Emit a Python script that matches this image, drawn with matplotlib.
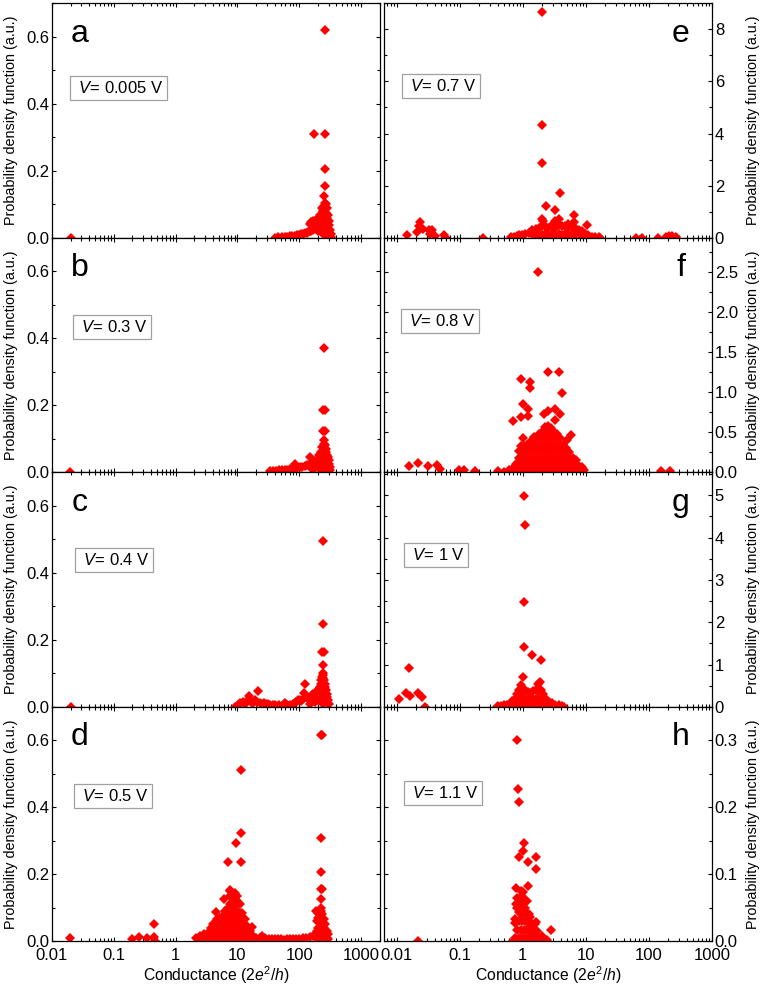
import numpy as np
import matplotlib
matplotlib.use('Agg')
import matplotlib.pyplot as plt
from matplotlib.ticker import LogLocator, MultipleLocator, FormatStrFormatter, FixedLocator, FixedFormatter

plt.rcParams['font.family'] = 'Liberation Sans'
plt.rcParams['mathtext.fontset'] = 'custom'
plt.rcParams['mathtext.rm'] = 'Liberation Sans'
plt.rcParams['mathtext.it'] = 'Liberation Sans:italic'

# panel data: (conductance in 2e^2/h, pdf)
a_pts = [(0.02, 0.0), (265, 0.62), (172, 0.31), (265, 0.31), (265, 0.205), (265, 0.155), (250, 0.125), (262, 0.105),
         (41, 0.0), (46, 0.002), (52, 0.003), (58, 0.003), (64, 0.004), (70, 0.005), (77, 0.006), (84, 0.007),
         (92, 0.008), (100, 0.009), (108, 0.011), (116, 0.012), (124, 0.014), (132, 0.016), (140, 0.018), (148, 0.02),
         (150, 0.042), (158, 0.048), (165, 0.05), (172, 0.045), (180, 0.05), (188, 0.055), (196, 0.045), (204, 0.04), (212, 0.05),
         (155, 0.022), (170, 0.025), (185, 0.028), (200, 0.022), (215, 0.03),
         (220, 0.07), (225, 0.035), (232, 0.09), (238, 0.05), (244, 0.08), (250, 0.095), (256, 0.06), (262, 0.085),
         (268, 0.1), (274, 0.075), (280, 0.09), (286, 0.06), (292, 0.07), (300, 0.05), (308, 0.04), (316, 0.025),
         (324, 0.012), (332, 0.004),
         (240, 0.02), (255, 0.03), (270, 0.04), (285, 0.025), (260, 0.01), (230, 0.015), (300, 0.015), (275, 0.015),
         (245, 0.055), (265, 0.06)]

b_pts = [(0.0195, 0.0), (250, 0.37), (240, 0.185), (262, 0.185), (240, 0.123), (262, 0.123), (250, 0.095),
         (87, 0.024), (148, 0.044),
         (34, 0.004), (38, 0.002), (42, 0.004), (47, 0.005), (52, 0.005), (58, 0.006), (64, 0.007), (70, 0.008),
         (77, 0.01), (85, 0.011), (93, 0.012), (102, 0.014), (112, 0.016), (122, 0.018), (132, 0.02), (142, 0.022),
         (152, 0.025), (162, 0.028), (172, 0.03), (182, 0.033), (192, 0.035),
         (200, 0.04), (205, 0.02), (212, 0.05), (218, 0.03), (225, 0.06), (232, 0.04), (238, 0.075), (245, 0.05),
         (250, 0.085), (255, 0.065), (262, 0.08), (268, 0.06), (275, 0.07), (282, 0.05), (290, 0.045), (298, 0.035),
         (306, 0.025), (314, 0.015), (320, 0.005),
         (230, 0.015), (245, 0.025), (260, 0.035), (275, 0.02), (290, 0.015), (250, 0.005), (220, 0.01),
         (180, 0.012), (160, 0.01), (200, 0.015)]

c_pts = [(0.0204, 0.0), (240, 0.495), (240, 0.247), (232, 0.165), (248, 0.165), (240, 0.125), (240, 0.10),
         (123, 0.07), (120, 0.042), (21.3, 0.048), (15.2, 0.033), (9.25, 0.0),
         (10.2, 0.005), (11.2, 0.012), (12.3, 0.015), (13.5, 0.01), (14.5, 0.018), (16.5, 0.015), (18, 0.012),
         (19.5, 0.02), (21, 0.016), (23, 0.012), (25, 0.01), (27, 0.012), (29, 0.01), (31, 0.008), (34, 0.006),
         (37, 0.007), (40, 0.005), (44, 0.004), (48, 0.005), (52, 0.004), (56, 0.008), (60, 0.012), (64, 0.007),
         (68, 0.004), (72, 0.005), (78, 0.008), (84, 0.012), (90, 0.016), (96, 0.02), (102, 0.022), (108, 0.018),
         (114, 0.025), (130, 0.03), (138, 0.025), (146, 0.028), (154, 0.03), (162, 0.035), (170, 0.04), (180, 0.038),
         (190, 0.045), (200, 0.05), (210, 0.055),
         (215, 0.06), (222, 0.08), (228, 0.07), (234, 0.09), (240, 0.085), (246, 0.095), (252, 0.08), (258, 0.07),
         (264, 0.06), (270, 0.05), (278, 0.04), (286, 0.03), (295, 0.02), (300, 0.01),
         (230, 0.03), (245, 0.04), (260, 0.03), (275, 0.015), (220, 0.02), (240, 0.01), (255, 0.015),
         (150, 0.01), (180, 0.015), (200, 0.02)]

d_pts = [(0.0195, 0.008), (0.196, 0.006), (0.26, 0.011), (0.343, 0.008), (0.44, 0.012), (0.44, 0.05), (0.46, 0.0),
         (11.4, 0.513), (11.4, 0.323), (9.6, 0.293), (7.13, 0.237), (11.4, 0.237), (7.5, 0.152), (5.98, 0.125),
         (4.55, 0.088), (17.2, 0.043),
         (226, 0.617), (236, 0.617), (228, 0.309), (228, 0.205), (222, 0.155), (234, 0.155), (228, 0.125),
         (225, 0.1), (187, 0.09),
         (2.1, 0.01), (2.5, 0.005), (2.5, 0.015), (2.9, 0.005), (2.9, 0.02), (3.3, 0.005), (3.3, 0.025),
         (3.7, 0.01), (3.7, 0.03), (3.7, 0.04), (4.1, 0.005), (4.1, 0.025), (4.1, 0.05),
         (4.6, 0.01), (4.6, 0.03), (4.6, 0.05), (4.6, 0.065), (5.2, 0.005), (5.2, 0.025), (5.2, 0.045), (5.2, 0.07),
         (5.8, 0.01), (5.8, 0.03), (5.8, 0.05), (5.8, 0.075),
         (6.4, 0.005), (6.4, 0.025), (6.4, 0.045), (6.4, 0.065), (6.4, 0.09),
         (7.0, 0.01), (7.0, 0.03), (7.0, 0.05), (7.0, 0.07), (7.0, 0.1),
         (7.7, 0.005), (7.7, 0.025), (7.7, 0.045), (7.7, 0.065), (7.7, 0.085), (7.7, 0.11), (7.7, 0.135), (7.7, 0.15),
         (8.4, 0.01), (8.4, 0.03), (8.4, 0.05), (8.4, 0.07), (8.4, 0.09), (8.4, 0.115), (8.4, 0.14),
         (9.2, 0.005), (9.2, 0.025), (9.2, 0.045), (9.2, 0.065), (9.2, 0.085), (9.2, 0.105), (9.2, 0.125), (9.2, 0.145),
         (10, 0.01), (10, 0.03), (10, 0.05), (10, 0.07), (10, 0.09), (10, 0.12), (10, 0.135),
         (11, 0.005), (11, 0.025), (11, 0.045), (11, 0.065), (11, 0.085), (11, 0.11),
         (12, 0.01), (12, 0.03), (12, 0.05), (12, 0.07), (12, 0.085),
         (13.2, 0.005), (13.2, 0.025), (13.2, 0.045), (13.2, 0.065),
         (14.5, 0.01), (14.5, 0.03), (14.5, 0.045), (16, 0.005), (16, 0.02), (16, 0.03), (18, 0.005), (18, 0.015),
         (20, 0.01), (23, 0.008), (25, 0.015), (28, 0.008), (32, 0.006), (36, 0.005), (40, 0.007), (45, 0.005),
         (50, 0.006), (56, 0.004), (63, 0.005), (70, 0.006), (80, 0.005), (90, 0.007), (100, 0.006), (115, 0.008),
         (130, 0.01), (150, 0.012), (170, 0.015),
         (195, 0.005), (195, 0.03), (195, 0.06), (205, 0.01), (205, 0.04), (205, 0.07), (205, 0.085),
         (215, 0.005), (215, 0.03), (215, 0.06), (215, 0.08), (225, 0.01), (225, 0.04), (225, 0.07), (225, 0.09),
         (235, 0.005), (235, 0.03), (235, 0.055), (235, 0.08), (250, 0.01), (250, 0.04), (250, 0.065),
         (265, 0.005), (265, 0.03), (265, 0.05), (280, 0.01), (280, 0.03), (295, 0.005), (295, 0.02)]

e_pts = [(0.0146, 0.1), (0.021, 0.23), (0.0238, 0.61), (0.0225, 0.45), (0.026, 0.35), (0.0322, 0.29), (0.0363, 0.3),
         (0.034, 0.15), (0.041, 0.08), (0.0557, 0.1), (0.06, 0.0), (0.232, 0.0),
         (2.03, 8.64), (2.03, 4.33), (2.03, 2.88), (3.96, 1.73), (2.35, 1.23), (3.30, 1.06), (6.6, 0.87),
         (2.03, 0.74), (2.1, 0.65), (3.7, 0.74), (10.5, 0.49), (6.4, 0.61),
         (61.4, 0.0), (78.4, 0.0), (141, 0.0), (184, 0.05), (210, 0.06), (235, 0.06), (265, 0.03),
         (0.64, 0.03), (0.72, 0.05), (0.8, 0.08), (0.88, 0.12), (0.98, 0.1), (1.1, 0.15), (1.24, 0.2),
         (1.4, 0.15), (1.4, 0.3), (1.6, 0.1), (1.6, 0.35), (1.8, 0.1), (1.8, 0.4), (2.0, 0.1), (2.0, 0.45),
         (2.25, 0.15), (2.25, 0.45), (2.55, 0.1), (2.55, 0.4), (2.9, 0.15), (2.9, 0.5),
         (3.3, 0.1), (3.3, 0.4), (3.3, 0.65), (3.7, 0.15), (3.7, 0.5), (4.2, 0.1), (4.2, 0.45),
         (4.7, 0.15), (4.7, 0.45), (5.3, 0.1), (5.3, 0.4), (5.3, 0.55), (6.0, 0.15), (6.0, 0.5),
         (6.8, 0.1), (6.8, 0.4), (7.7, 0.15), (7.7, 0.3), (8.7, 0.1), (8.7, 0.25), (9.8, 0.05), (9.8, 0.15),
         (11, 0.1), (12.5, 0.05), (14, 0.05), (16, 0.02), (17, 0.0)]

f_pts = [(1.75, 2.49), (2.52, 1.25), (3.73, 1.25), (4.11, 0.99), (0.92, 1.16), (1.29, 1.12), (1.29, 1.05),
         (1.01, 0.85), (1.22, 0.78), (0.92, 0.69), (0.70, 0.64), (1.20, 0.70), (2.15, 0.73), (2.52, 0.76),
         (3.3, 0.78), (3.9, 0.72), (3.3, 0.65), (5.9, 0.46), (1.0, 0.42), (5.0, 0.40), (1.5, 0.44),
         (0.0155, 0.08), (0.0215, 0.11), (0.031, 0.07), (0.0437, 0.09), (0.049, 0.04), (0.0964, 0.03),
         (0.116, 0.03), (0.177, 0.01), (0.406, 0.01), (0.5, 0.0), (0.6, 0.02), (153, 0.01), (215, 0.01),
         (0.70, 0.02), (0.70, 0.05), (0.77, 0.02), (0.77, 0.1),
         (0.86, 0.02), (0.86, 0.1), (0.86, 0.18), (0.86, 0.26),
         (0.95, 0.02), (0.95, 0.1), (0.95, 0.18), (0.95, 0.26), (0.95, 0.32),
         (1.05, 0.02), (1.05, 0.1), (1.05, 0.18), (1.05, 0.26), (1.05, 0.32),
         (1.17, 0.02), (1.17, 0.1), (1.17, 0.18), (1.17, 0.26), (1.17, 0.34),
         (1.3, 0.02), (1.3, 0.1), (1.3, 0.18), (1.3, 0.26), (1.3, 0.34), (1.3, 0.38),
         (1.45, 0.02), (1.45, 0.1), (1.45, 0.18), (1.45, 0.26), (1.45, 0.34), (1.45, 0.4),
         (1.62, 0.02), (1.62, 0.1), (1.62, 0.18), (1.62, 0.26), (1.62, 0.34), (1.62, 0.42),
         (1.8, 0.02), (1.8, 0.1), (1.8, 0.18), (1.8, 0.26), (1.8, 0.34), (1.8, 0.42), (1.8, 0.48),
         (2.0, 0.02), (2.0, 0.1), (2.0, 0.18), (2.0, 0.26), (2.0, 0.34), (2.0, 0.42), (2.0, 0.5),
         (2.25, 0.02), (2.25, 0.1), (2.25, 0.18), (2.25, 0.26), (2.25, 0.34), (2.25, 0.42), (2.25, 0.5), (2.25, 0.56),
         (2.5, 0.02), (2.5, 0.1), (2.5, 0.18), (2.5, 0.26), (2.5, 0.34), (2.5, 0.42), (2.5, 0.5), (2.5, 0.58),
         (2.8, 0.02), (2.8, 0.1), (2.8, 0.18), (2.8, 0.26), (2.8, 0.34), (2.8, 0.42), (2.8, 0.5), (2.8, 0.55),
         (3.1, 0.02), (3.1, 0.1), (3.1, 0.18), (3.1, 0.26), (3.1, 0.34), (3.1, 0.42), (3.1, 0.5),
         (3.5, 0.02), (3.5, 0.1), (3.5, 0.18), (3.5, 0.26), (3.5, 0.34), (3.5, 0.42), (3.5, 0.48),
         (3.9, 0.02), (3.9, 0.1), (3.9, 0.18), (3.9, 0.26), (3.9, 0.34), (3.9, 0.42),
         (4.4, 0.02), (4.4, 0.1), (4.4, 0.18), (4.4, 0.26), (4.4, 0.34),
         (4.9, 0.02), (4.9, 0.1), (4.9, 0.18), (4.9, 0.26), (4.9, 0.3),
         (5.5, 0.02), (5.5, 0.1), (5.5, 0.18), (5.5, 0.25), (6.2, 0.02), (6.2, 0.1), (6.2, 0.18),
         (7.0, 0.02), (7.0, 0.1), (7.0, 0.15), (7.8, 0.02), (7.8, 0.08), (8.7, 0.02), (8.7, 0.06), (9.3, 0.02)]

g_pts = [(1.06, 4.98), (1.08, 4.29), (1.06, 2.47), (1.06, 1.41), (1.41, 1.23), (1.95, 1.11), (1.0, 0.70),
         (0.0155, 0.93), (0.0107, 0.2), (0.0141, 0.34), (0.016, 0.26), (0.0215, 0.32), (0.0253, 0.24), (0.0285, 0.0),
         (0.395, 0.0), (0.45, 0.0), (0.4, 0.02), (0.45, 0.03), (0.5, 0.04), (0.56, 0.05), (0.62, 0.08),
         (0.68, 0.03), (0.68, 0.15), (0.74, 0.03), (0.74, 0.2), (0.81, 0.03), (0.81, 0.2), (0.81, 0.3),
         (0.87, 0.03), (0.87, 0.2), (0.87, 0.4), (0.92, 0.03), (0.92, 0.2), (0.92, 0.37), (0.92, 0.52),
         (1.0, 0.03), (1.0, 0.2), (1.0, 0.37), (1.0, 0.45), (1.1, 0.03), (1.1, 0.2), (1.1, 0.37),
         (1.2, 0.03), (1.2, 0.2), (1.2, 0.35), (1.32, 0.03), (1.32, 0.2), (1.32, 0.33),
         (1.45, 0.03), (1.45, 0.2), (1.45, 0.37), (1.6, 0.03), (1.6, 0.2), (1.6, 0.4),
         (1.75, 0.03), (1.75, 0.2), (1.75, 0.37), (1.75, 0.55), (1.85, 0.6),
         (1.95, 0.03), (1.95, 0.2), (1.95, 0.4), (2.1, 0.03), (2.1, 0.2), (2.1, 0.3),
         (2.3, 0.03), (2.3, 0.18), (2.6, 0.03), (2.6, 0.12), (2.9, 0.02), (2.9, 0.1),
         (3.3, 0.04), (3.7, 0.04), (4.2, 0.02), (4.5, 0.01)]

h_pts = [(0.0218, 0.0), (0.70, 0.0), (0.81, 0.30), (0.84, 0.227), (0.865, 0.208), (1.06, 0.147), (1.0, 0.135),
         (0.865, 0.126), (1.2, 0.118), (1.63, 0.125), (1.63, 0.108), (0.77, 0.08), (1.2, 0.082), (1.0, 0.073),
         (0.92, 0.063), (1.1, 0.061), (0.77, 0.056), (0.74, 0.033), (1.1, 0.041), (1.32, 0.036), (1.63, 0.028),
         (1.25, 0.021), (1.55, 0.013), (2.03, 0.008), (2.75, 0.016), (2.4, 0.002),
         (0.74, 0.005), (0.74, 0.027), (0.8, 0.017), (0.8, 0.05), (0.8, 0.065),
         (0.86, 0.005), (0.86, 0.03), (0.86, 0.043), (0.86, 0.056), (0.92, 0.017), (0.92, 0.04), (0.92, 0.075),
         (0.98, 0.005), (0.98, 0.03), (0.98, 0.056), (0.98, 0.068), (1.04, 0.017), (1.04, 0.043), (1.04, 0.06),
         (1.1, 0.005), (1.1, 0.03), (1.1, 0.05), (1.18, 0.017), (1.18, 0.04), (1.18, 0.06),
         (1.26, 0.005), (1.26, 0.03), (1.26, 0.04), (1.35, 0.01), (1.35, 0.025), (1.45, 0.005), (1.45, 0.02),
         (1.55, 0.01), (1.55, 0.025), (1.7, 0.005), (1.7, 0.015), (1.85, 0.005), (2.2, 0.003)]

panels = [a_pts, b_pts, c_pts, d_pts, e_pts, f_pts, g_pts, h_pts]
letters = ['a', 'b', 'c', 'd', 'e', 'f', 'g', 'h']
voltages = ['0.005', '0.3', '0.4', '0.5', '0.7', '0.8', '1', '1.1']
ytop = [0.7, 0.7, 0.7, 0.7, 9.0, 2.92, 5.55, 0.35]
ymajor = [0.2, 0.2, 0.2, 0.2, 2, 0.5, 1, 0.1]
ymajor_fmt = ['%.1f', '%.1f', '%.1f', '%.1f', '%d', '%.1f', '%d', '%.1f']
xticks = [0.01, 0.1, 1, 10, 100, 1000]
xtick_labels = ['0.01', '0.1', '1', '10', '100', '1000']

# layout in pixels
W, H = 763, 985
rows_px = [(3, 238), (238, 472), (472, 707), (707, 941)]
cols_px = [(52, 380), (384, 712)]
xlims = [(0.01, 2030), (0.0063, 1000)]
box_pos = [(0.066, 0.638), (0.075, 0.62), (0.081, 0.626), (0.078, 0.62),
           (0.066, 0.647), (0.063, 0.645), (0.072, 0.647), (0.072, 0.632)]

fig = plt.figure(figsize=(W / 100, H / 100), dpi=100)

for i in range(8):
    col, row = i // 4, i % 4
    x0, x1 = cols_px[col]
    t, b = rows_px[row]
    ax = fig.add_axes([x0 / W, 1 - b / H, (x1 - x0) / W, (b - t) / H])
    xs = [p[0] for p in panels[i]]
    ys = [p[1] for p in panels[i]]
    ax.plot(xs, ys, 'D', color='red', ms=5.2, mew=0, linestyle='none')

    ax.set_xscale('log')
    ax.set_xlim(*xlims[col])
    ax.set_ylim(0, ytop[i])
    ax.xaxis.set_major_locator(FixedLocator(xticks))
    ax.xaxis.set_major_formatter(FixedFormatter(xtick_labels))
    ax.xaxis.set_minor_locator(LogLocator(base=10, subs=np.arange(2, 10) * 1.0, numticks=100))
    ax.yaxis.set_major_locator(MultipleLocator(ymajor[i]))
    ax.yaxis.set_minor_locator(MultipleLocator(ymajor[i] / 2))
    ax.yaxis.set_major_formatter(FormatStrFormatter(ymajor_fmt[i]))

    ax.tick_params(which='both', direction='in', top=True, bottom=True, left=True, right=True,
                   width=0.8, labelsize=12, pad=2)
    ax.tick_params(which='major', length=3.2)
    ax.tick_params(which='minor', length=2)
    ax.tick_params(axis='x', labelbottom=(row == 3), pad=5)
    for s in ax.spines.values():
        s.set_linewidth(0.9)

    if col == 0:
        ax.tick_params(axis='y', labelleft=True, labelright=False)
        ax.set_ylabel('Probability density function (a.u.)', fontsize=10.4)
        ax.yaxis.set_label_coords(-0.105, 0.5)
        ax.text(0.085, 0.87, letters[i], transform=ax.transAxes, fontsize=23, ha='center', va='center')
    else:
        ax.tick_params(axis='y', labelleft=False, labelright=True)
        ax.yaxis.set_label_position('right')
        ax.set_ylabel('Probability density function (a.u.)', fontsize=10.4)
        ax.yaxis.set_label_coords(1.104, 0.5)
        ax.text(0.904, 0.87, letters[i], transform=ax.transAxes, fontsize=23, ha='center', va='center')

    bx, by = box_pos[i]
    ax.text(bx, by, r' $V$= ' + voltages[i] + ' V', transform=ax.transAxes, fontsize=12,
            ha='left', va='center',
            bbox=dict(boxstyle='square,pad=0.22', fc='white', ec='#a0a0a0', lw=0.9))

    if row == 3:
        ax.set_xlabel(r'Conductance (2$e^2$/$h$)', fontsize=11.3, labelpad=1)

fig.savefig('out.png', dpi=100)
